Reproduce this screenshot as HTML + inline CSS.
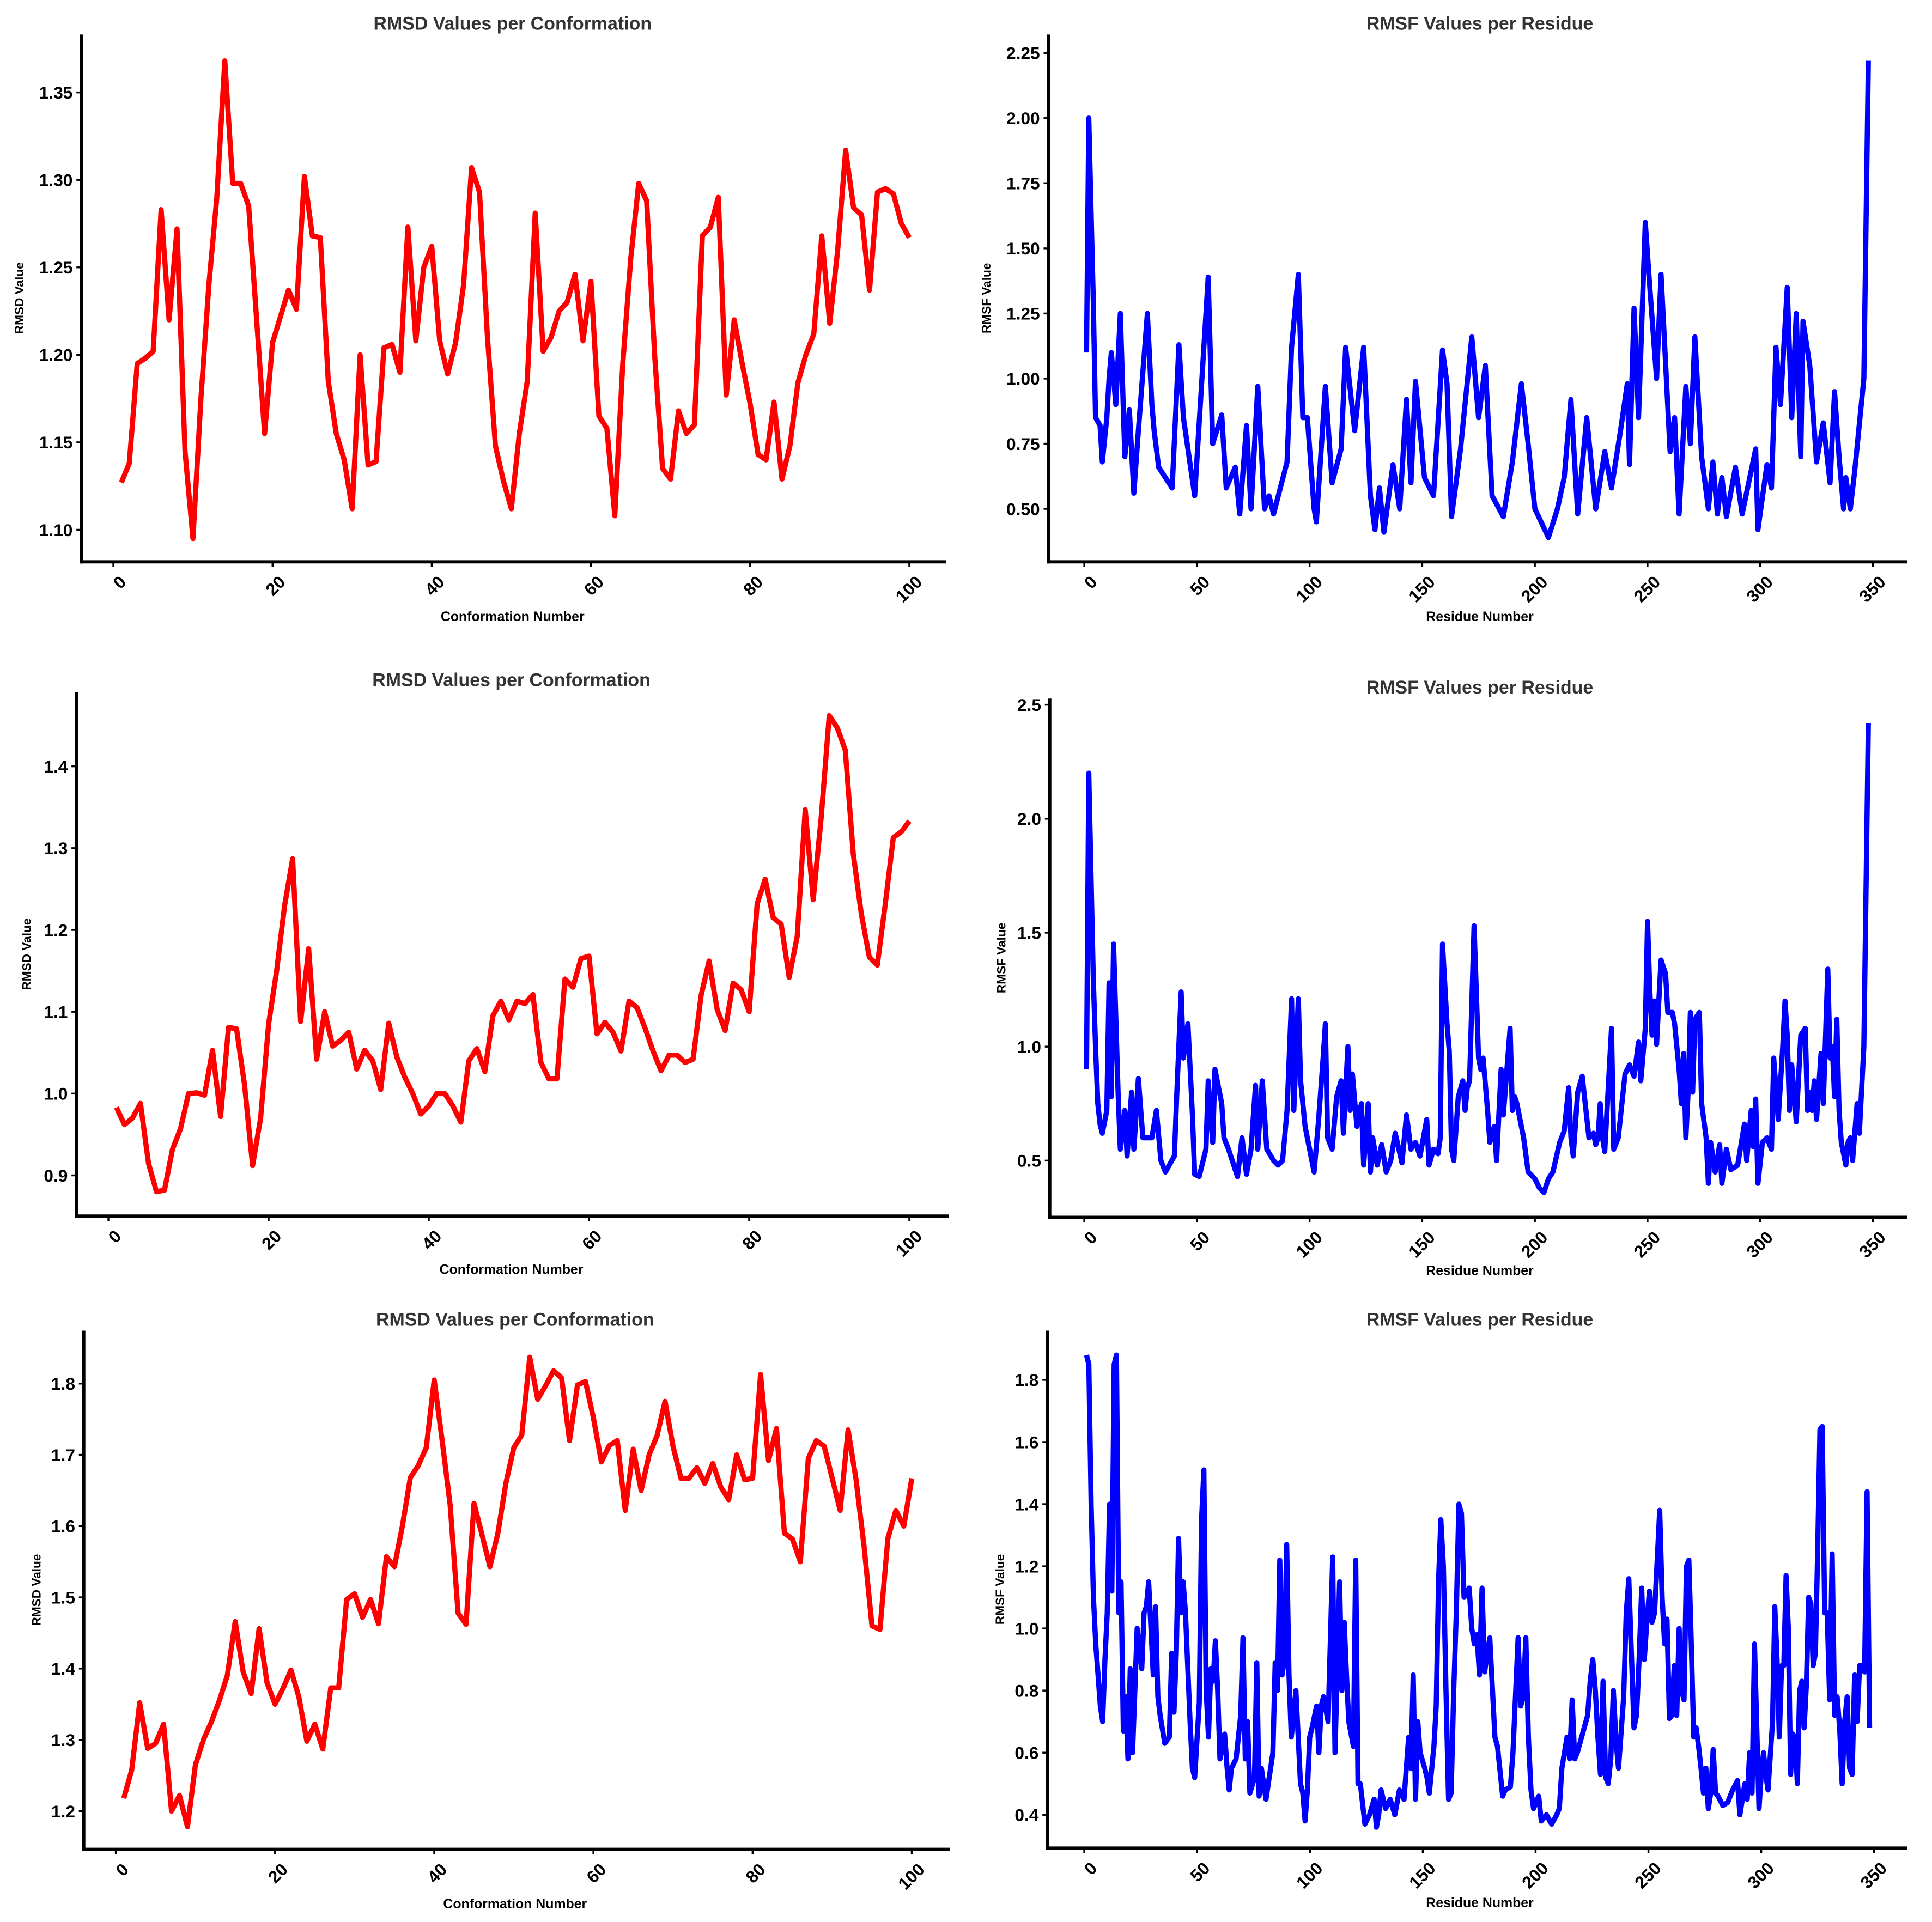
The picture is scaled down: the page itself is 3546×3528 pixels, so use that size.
<!DOCTYPE html>
<html><head><meta charset="utf-8"><style>
html,body{margin:0;padding:0;background:#fff;}
svg{display:block;font-family:"Liberation Sans","DejaVu Sans",sans-serif;}
</style></head><body>
<svg id="fig" width="3546" height="3528" viewBox="0 0 1568 1560" preserveAspectRatio="none" xmlns="http://www.w3.org/2000/svg"></svg>
<script>
// ---- RMSD data (conformations 1..100) ----
const rmsd1 = [1.127,1.138,1.195,1.198,1.202,1.283,1.220,1.272,1.145,1.095,1.175,1.240,1.290,1.368,1.298,1.298,1.285,1.220,1.155,1.207,1.222,1.237,1.226,1.302,1.268,1.267,1.185,1.155,1.140,1.112,1.200,1.137,1.139,1.204,1.206,1.190,1.273,1.208,1.250,1.262,1.208,1.189,1.207,1.240,1.307,1.293,1.210,1.148,1.128,1.112,1.155,1.185,1.281,1.202,1.210,1.225,1.230,1.246,1.208,1.242,1.165,1.158,1.108,1.195,1.255,1.298,1.288,1.200,1.135,1.129,1.168,1.155,1.160,1.268,1.273,1.290,1.177,1.220,1.195,1.172,1.143,1.140,1.173,1.129,1.148,1.184,1.200,1.212,1.268,1.218,1.260,1.317,1.284,1.280,1.237,1.293,1.295,1.292,1.275,1.267];
const rmsd2 = [0.983,0.962,0.970,0.988,0.915,0.880,0.882,0.932,0.957,1.000,1.001,0.998,1.053,0.972,1.081,1.079,1.010,0.912,0.970,1.085,1.150,1.230,1.287,1.088,1.177,1.042,1.100,1.058,1.065,1.075,1.030,1.053,1.040,1.005,1.086,1.045,1.020,1.000,0.975,0.985,1.000,1.000,0.985,0.965,1.040,1.055,1.027,1.095,1.113,1.090,1.113,1.110,1.121,1.038,1.018,1.018,1.140,1.130,1.165,1.168,1.073,1.087,1.075,1.052,1.113,1.105,1.080,1.052,1.028,1.047,1.047,1.038,1.042,1.120,1.162,1.103,1.077,1.135,1.127,1.100,1.232,1.262,1.215,1.207,1.142,1.192,1.347,1.237,1.338,1.462,1.447,1.420,1.293,1.220,1.167,1.157,1.232,1.313,1.320,1.333];
const rmsd3 = [1.218,1.258,1.352,1.288,1.295,1.322,1.200,1.222,1.178,1.265,1.300,1.325,1.355,1.390,1.466,1.395,1.365,1.456,1.380,1.350,1.372,1.398,1.360,1.298,1.322,1.287,1.373,1.373,1.497,1.505,1.472,1.497,1.463,1.557,1.543,1.600,1.668,1.685,1.710,1.805,1.720,1.630,1.478,1.462,1.632,1.588,1.543,1.590,1.660,1.710,1.728,1.837,1.778,1.797,1.818,1.808,1.720,1.798,1.803,1.752,1.690,1.713,1.720,1.622,1.708,1.650,1.700,1.727,1.775,1.712,1.667,1.667,1.682,1.660,1.688,1.655,1.637,1.700,1.665,1.667,1.813,1.692,1.737,1.590,1.582,1.550,1.695,1.720,1.712,1.667,1.622,1.735,1.665,1.572,1.460,1.455,1.583,1.622,1.600,1.667];

// ---- RMSF data: residue numbers and values ----
const res1 = [1,2,4,5,7,8,10,11,12,14,16,18,20,22,24,28,30,31,33,39,42,44,49,55,57,61,63,67,69,72,74,77,80,82,84,90,92,95,97,99,102,103,107,110,114,116,120,124,127,129,131,133,137,140,143,145,147,151,155,159,161,163,167,172,175,178,181,186,190,194,197,200,206,210,213,216,219,223,227,231,234,238,241,242,244,246,249,251,254,256,260,262,264,267,269,271,274,277,279,281,283,285,289,292,298,299,303,305,307,309,312,314,316,318,319,322,325,328,331,333,335,337,338,340,342,346,348];
const rmsf1 = [1.10,2.00,1.30,0.85,0.82,0.68,0.85,1.00,1.10,0.90,1.25,0.70,0.88,0.56,0.80,1.25,0.90,0.80,0.66,0.58,1.13,0.85,0.55,1.39,0.75,0.86,0.58,0.66,0.48,0.82,0.50,0.97,0.50,0.55,0.48,0.68,1.12,1.40,0.85,0.85,0.50,0.45,0.97,0.60,0.73,1.12,0.80,1.12,0.55,0.42,0.58,0.41,0.67,0.50,0.92,0.60,0.99,0.62,0.55,1.11,0.98,0.47,0.73,1.16,0.85,1.05,0.55,0.47,0.68,0.98,0.75,0.50,0.39,0.50,0.62,0.92,0.48,0.85,0.50,0.72,0.58,0.80,0.98,0.67,1.27,0.85,1.60,1.35,1.00,1.40,0.72,0.85,0.48,0.97,0.75,1.16,0.70,0.50,0.68,0.48,0.62,0.47,0.66,0.48,0.73,0.42,0.67,0.58,1.12,0.90,1.35,0.85,1.25,0.70,1.22,1.05,0.68,0.83,0.60,0.95,0.70,0.50,0.62,0.50,0.65,1.00,2.22];
const res2 = [1,2,4,5,6,7,8,10,11,12,13,15,16,18,19,21,22,24,26,30,32,34,36,40,41,43,44,46,48,49,51,54,55,57,58,61,62,64,68,70,72,74,76,77,79,81,84,86,88,90,92,93,95,96,98,100,102,104,106,107,108,110,112,114,115,117,118,119,121,123,124,126,127,128,130,132,134,136,138,141,143,145,147,149,152,153,155,157,158,159,161,162,163,164,166,168,169,170,171,173,175,176,177,179,180,182,183,185,186,189,190,191,192,195,197,200,202,204,206,208,211,213,215,216,217,219,221,224,226,227,228,229,230,231,234,235,237,240,242,244,246,247,249,250,251,252,253,254,255,256,258,259,261,262,264,265,266,267,268,269,270,271,273,274,276,277,278,280,282,283,285,287,290,292,293,294,296,297,298,299,301,303,305,306,308,310,311,312,313,314,316,318,320,321,322,323,324,325,327,328,330,331,332,333,334,335,336,338,339,340,341,343,344,346,348];
const rmsf2 = [0.90,2.20,1.30,1.00,0.75,0.66,0.62,0.72,1.28,0.78,1.45,0.80,0.55,0.72,0.52,0.80,0.55,0.86,0.60,0.60,0.72,0.50,0.45,0.52,0.78,1.24,0.95,1.10,0.70,0.44,0.43,0.55,0.85,0.58,0.90,0.75,0.60,0.55,0.43,0.60,0.44,0.55,0.83,0.55,0.85,0.55,0.50,0.48,0.50,0.72,1.21,0.72,1.21,0.85,0.65,0.55,0.45,0.68,0.95,1.10,0.60,0.55,0.78,0.85,0.62,1.00,0.72,0.88,0.65,0.75,0.48,0.75,0.45,0.60,0.48,0.57,0.45,0.50,0.62,0.49,0.70,0.55,0.58,0.52,0.68,0.48,0.55,0.53,0.60,1.45,1.10,0.98,0.55,0.50,0.78,0.85,0.72,0.82,0.85,1.53,0.95,0.90,0.95,0.72,0.58,0.65,0.50,0.90,0.70,1.08,0.72,0.78,0.75,0.60,0.45,0.42,0.38,0.36,0.42,0.45,0.58,0.63,0.82,0.60,0.52,0.80,0.87,0.60,0.62,0.57,0.60,0.75,0.60,0.54,1.08,0.55,0.60,0.88,0.92,0.87,1.02,0.85,1.08,1.55,1.25,1.05,1.20,1.01,1.20,1.38,1.32,1.15,1.15,1.10,0.90,0.75,0.97,0.60,0.80,1.15,0.80,1.12,1.15,0.75,0.60,0.40,0.58,0.45,0.57,0.40,0.55,0.46,0.48,0.60,0.66,0.50,0.72,0.56,0.77,0.40,0.58,0.60,0.55,0.95,0.68,1.00,1.20,1.05,0.72,0.92,0.67,1.05,1.08,0.72,0.80,0.72,0.85,0.68,0.97,0.75,1.34,0.95,1.00,0.78,1.12,0.72,0.58,0.48,0.58,0.60,0.50,0.75,0.62,1.00,2.42];
const res3raw = [1,2,3,4,5,6,7,8,9,10,11,12,13,14,15,16,17,18,19,20,21,22,23,25,26,27,28,30,31,32,33,35,37,38,39,40,41,42,43,44,46,47,48,50,51,52,53,54,55,56,57,58,59,61,62,63,64,66,68,69,70,71,72,74,75,76,77,79,80,82,83,84,85,86,87,88,89,90,91,92,93,94,95,96,97,98,99,101,102,103,104,106,108,109,111,112,113,114,115,117,118,119,120,122,124,126,127,128,129,131,133,135,137,139,141,142,143,144,145,146,148,149,150,152,153,154,155,156,157,158,159,160,161,162,163,164,166,167,168,169,170,171,172,174,176,177,179,180,182,183,185,186,187,188,189,190,191,193,194,196,198,200,201,202,203,204,205,206,207,208,210,212,213,214,215,216,217,218,219,220,221,222,223,224,226,227,228,230,231,232,233,234,235,236,237,238,240,241,242,243,244,245,246,247,248,249,250,251,252,253,254,255,256,257,258,259,260,261,262,263,264,266,268,270,272,273,275,276,277,278,279,281,282,283,284,285,287,288,289,290,291,292,293,294,295,296,297,298,299,300,301,302,303,304,305,306,307,308,309,310,311,312,313,314,315,316,317,318,319,320,321,322,323,324,325,326,327,328];
const rmsf3 = [1.88,1.85,1.40,1.10,0.95,0.85,0.75,0.70,0.90,1.05,1.40,1.12,1.85,1.88,1.05,1.15,0.67,0.78,0.58,0.87,0.60,0.80,1.00,0.87,1.05,1.07,1.15,0.85,1.07,0.78,0.72,0.63,0.65,0.92,0.73,0.92,1.29,1.05,1.15,1.05,0.70,0.55,0.52,0.76,1.35,1.51,0.80,0.65,0.87,0.83,0.96,0.80,0.58,0.66,0.56,0.48,0.55,0.58,0.72,0.97,0.58,0.70,0.47,0.52,0.89,0.46,0.55,0.45,0.50,0.60,0.89,0.80,1.22,0.85,0.90,1.27,0.85,0.65,0.72,0.80,0.65,0.50,0.47,0.38,0.48,0.65,0.68,0.75,0.60,0.75,0.78,0.70,1.23,0.60,1.15,0.80,1.02,0.85,0.70,0.62,1.22,0.50,0.50,0.37,0.40,0.45,0.36,0.40,0.48,0.42,0.45,0.40,0.48,0.45,0.65,0.55,0.85,0.45,0.70,0.60,0.55,0.52,0.47,0.62,0.75,1.15,1.35,1.20,0.80,0.45,0.47,0.80,1.05,1.40,1.37,1.10,1.13,1.00,0.95,0.98,0.85,1.13,0.86,0.97,0.65,0.62,0.46,0.48,0.49,0.60,0.97,0.75,0.78,0.97,0.65,0.48,0.42,0.46,0.38,0.40,0.37,0.40,0.42,0.55,0.60,0.65,0.58,0.77,0.58,0.60,0.66,0.72,0.83,0.90,0.80,0.65,0.53,0.83,0.52,0.50,0.58,0.80,0.64,0.55,0.78,1.05,1.16,0.68,0.72,0.90,1.13,0.90,1.02,1.12,1.02,1.05,1.38,1.10,0.95,1.03,0.71,0.72,0.88,0.72,1.00,0.80,0.77,1.20,1.22,0.95,0.65,0.68,0.62,0.55,0.47,0.55,0.42,0.47,0.61,0.47,0.46,0.43,0.44,0.48,0.51,0.40,0.50,0.45,0.60,0.47,0.95,0.42,0.53,0.60,0.53,0.48,0.70,1.07,0.90,0.65,0.88,0.88,1.17,1.00,0.53,0.66,0.65,0.50,0.80,0.83,0.68,0.82,1.10,1.08,0.88,0.92,1.25,1.64,1.65,1.05,1.05,0.77,1.24,0.72,0.78,0.68,0.50,0.70,0.78,0.55,0.53,0.85,0.70,0.88,0.88,0.86,1.44,0.68];
// reading alignment for bottom-right residue numbering (read index -> residue)
const alignFrom = [1,155,162,240,279,309,328];
const alignTo   = [1,158,166,255,297,327,348];

const ticksRMSD = [0,20,40,60,80,100];
const ticksRMSF = [0,50,100,150,200,250,300,350];
const yt1 = [1.10,1.15,1.20,1.25,1.30,1.35];
const yt2 = [0.50,0.75,1.00,1.25,1.50,1.75,2.00,2.25];
const yt3 = [0.9,1.0,1.1,1.2,1.3,1.4];
const yt4 = [0.5,1.0,1.5,2.0,2.5];
const yt5 = [1.2,1.3,1.4,1.5,1.6,1.7,1.8];
const yt6 = [0.4,0.6,0.8,1.0,1.2,1.4,1.6,1.8];

function align(r){
  for(let i=0;i<alignFrom.length-1;i++){
    if(r<=alignFrom[i+1]){const t=(r-alignFrom[i])/(alignFrom[i+1]-alignFrom[i]);return alignTo[i]+t*(alignTo[i+1]-alignTo[i]);}
  }
  return r;
}
const res3 = res3raw.map(align);

const NS="http://www.w3.org/2000/svg";
const svg=document.getElementById('fig');
function el(tag,attrs,parent){const e=document.createElementNS(NS,tag);for(const k in attrs)e.setAttribute(k,attrs[k]);(parent||svg).appendChild(e);return e;}

function panel(o){
  const g=el('g',{});
  
  
  const xs=v=>o.x0px+(v-o.x0v)*(o.x1px-o.x0px)/(o.x1v-o.x0v);
  const ys=v=>o.y0px+(v-o.y0v)*(o.y1px-o.y0px)/(o.y1v-o.y0v);
  // line
  let d='';
  for(let i=0;i<o.vals.length;i++){d+=(i?'L':'M')+xs(o.xv[i]).toFixed(2)+','+ys(o.vals[i]).toFixed(2);}
  const p=el('path',{d:d,fill:'none',stroke:o.color,'stroke-width':4.2,'stroke-linejoin':'round','stroke-linecap':'butt'},g);
  
  
  // spines
  const sy=el('line',{x1:o.ax,y1:o.top,x2:o.ax,y2:o.bot+1.3,stroke:'#000','stroke-width':2.6},g);
  
  
  const sx=el('line',{x1:o.ax-1.3,y1:o.bot,x2:o.right,y2:o.bot,stroke:'#000','stroke-width':2.6},g);
  
  
  // x ticks
  o.xt.forEach(t=>{
    const x=xs(t);
    el('line',{x1:x,y1:o.bot,x2:x,y2:o.bot+4,stroke:'#000','stroke-width':1.5},g);
    const tx=el('text',{x:x+4,y:o.bot+10,'font-size':14,'font-weight':'bold','text-anchor':'end',transform:`rotate(-45 ${x+4} ${o.bot+10})`,'dominant-baseline':'hanging'},g);
    tx.textContent=String(t);
    
    
  });
  o.yt.forEach(t=>{
    const y=ys(t);
    el('line',{x1:o.ax-4,y1:y,x2:o.ax,y2:y,stroke:'#000','stroke-width':1.5},g);
    const tx=el('text',{x:o.ax-7,y:y+5,'font-size':14,'font-weight':'bold','text-anchor':'end'},g);
    tx.textContent=t.toFixed(o.dec);
    
    
  });
  const ti=el('text',{x:o.tx,y:o.ty,'font-size':15,'font-weight':'bold','text-anchor':'middle',fill:'#333'},g);
  ti.textContent=o.title;
  
  
  const xl=el('text',{x:o.tx,y:o.xly,'font-size':11,'font-weight':'bold','text-anchor':'middle'},g);
  xl.textContent=o.xlabel;
  
  
  const ylx=o.ylx, yly=(o.top+o.bot)/2;
  const yl=el('text',{x:ylx,y:yly,'font-size':10,'font-weight':'bold','text-anchor':'middle',transform:`rotate(-90 ${ylx} ${yly})`},g);
  yl.textContent=o.ylabel;
  
  
}
const idx=rmsd1.map((_,i)=>i+1);
panel({name:'rmsd-chart-1',vals:rmsd1,xv:idx,color:'#ff0000',x0v:0,x1v:100,x0px:92,x1px:738,y0v:1.10,y1v:1.35,y0px:430,y1px:75,ax:66,top:28,bot:456,right:768,xt:ticksRMSD,yt:yt1,dec:2,title:'RMSD Values per Conformation',tx:416,ty:24,xlabel:'Conformation Number',xly:504,ylabel:'RMSD Value',ylx:19});
panel({name:'rmsf-chart-1',vals:rmsf1,xv:res1,color:'#0000ff',x0v:0,x1v:350,x0px:880,x1px:1520,y0v:0.5,y1v:2.25,y0px:413,y1px:43,ax:851,top:28,bot:456,right:1548,xt:ticksRMSF,yt:yt2,dec:2,title:'RMSF Values per Residue',tx:1201,ty:24,xlabel:'Residue Number',xly:504,ylabel:'RMSF Value',ylx:804});
panel({name:'rmsd-chart-2',vals:rmsd2,xv:idx,color:'#ff0000',x0v:0,x1v:100,x0px:88,x1px:738,y0v:0.9,y1v:1.4,y0px:954,y1px:622,ax:62,top:562,bot:987,right:770,xt:ticksRMSD,yt:yt3,dec:1,title:'RMSD Values per Conformation',tx:415,ty:557,xlabel:'Conformation Number',xly:1034,ylabel:'RMSD Value',ylx:25});
panel({name:'rmsf-chart-2',vals:rmsf2,xv:res2,color:'#0000ff',x0v:0,x1v:350,x0px:880,x1px:1520,y0v:0.5,y1v:2.5,y0px:942,y1px:572,ax:852,top:567,bot:988,right:1548,xt:ticksRMSF,yt:yt4,dec:1,title:'RMSF Values per Residue',tx:1201,ty:563,xlabel:'Residue Number',xly:1035,ylabel:'RMSF Value',ylx:816});
panel({name:'rmsd-chart-3',vals:rmsd3,xv:idx,color:'#ff0000',x0v:0,x1v:100,x0px:94,x1px:740,y0v:1.2,y1v:1.8,y0px:1470,y1px:1123,ax:68,top:1080,bot:1501,right:771,xt:ticksRMSD,yt:yt5,dec:1,title:'RMSD Values per Conformation',tx:418,ty:1076,xlabel:'Conformation Number',xly:1549,ylabel:'RMSD Value',ylx:33});
panel({name:'rmsf-chart-3',vals:rmsf3,xv:res3,color:'#0000ff',x0v:0,x1v:350,x0px:880,x1px:1521,y0v:0.4,y1v:1.8,y0px:1473,y1px:1120,ax:850,top:1080,bot:1500,right:1548,xt:ticksRMSF,yt:yt6,dec:1,title:'RMSF Values per Residue',tx:1201,ty:1076,xlabel:'Residue Number',xly:1548,ylabel:'RMSF Value',ylx:815});
</script>
</body></html>
